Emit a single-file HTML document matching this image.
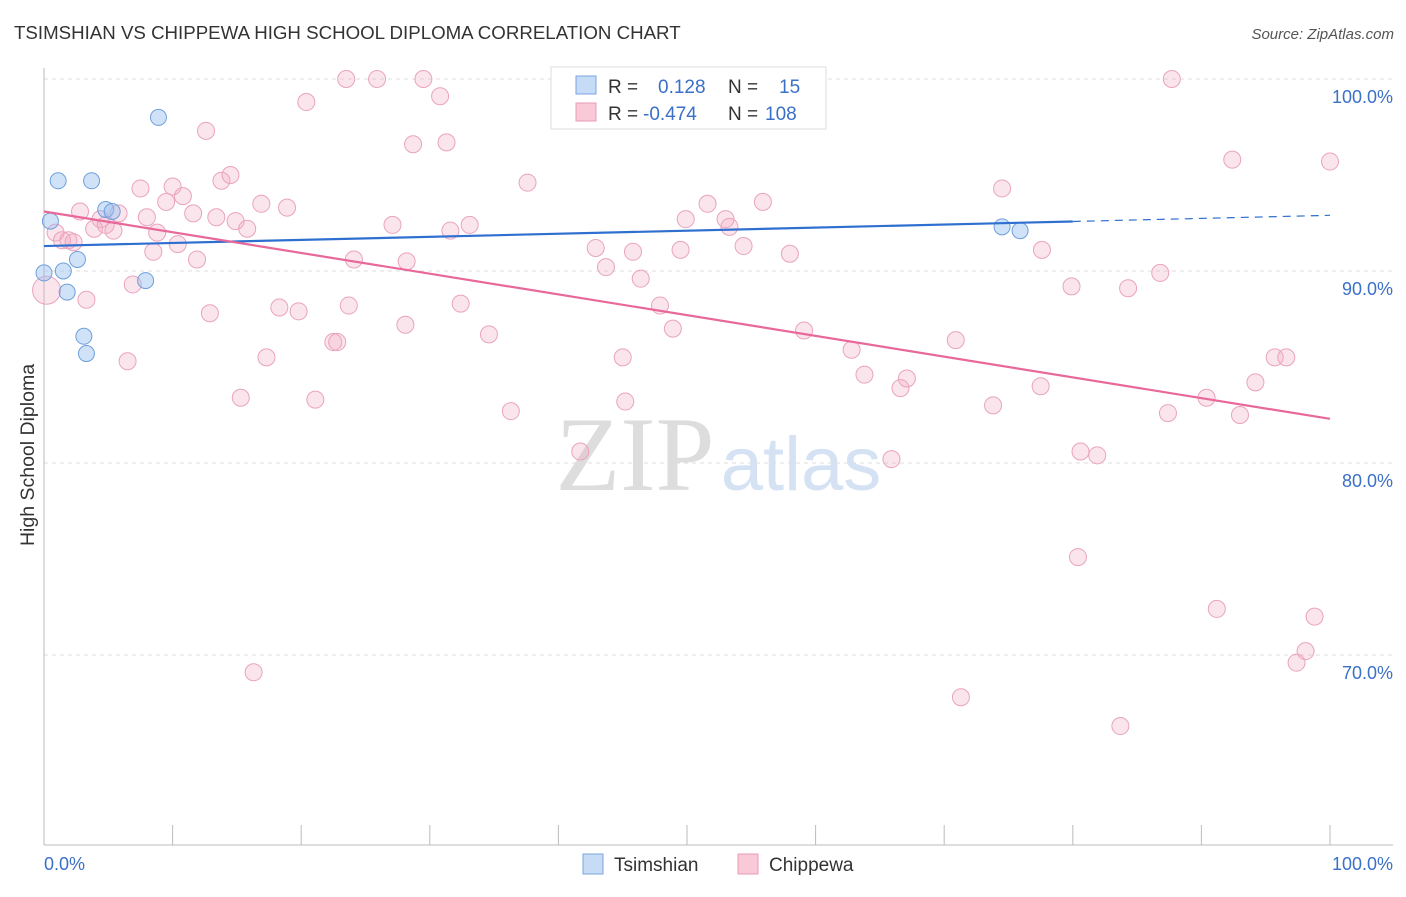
<!DOCTYPE html>
<html><head><meta charset="utf-8"><style>
body{margin:0;background:#fff;font-family:"Liberation Sans",sans-serif}
#c{position:relative;width:1406px;height:892px}
</style></head><body>
<div id="c">
<svg id="s" width="1406" height="892" xmlns="http://www.w3.org/2000/svg">
<text x="14" y="39" font-size="18.7" fill="#333">TSIMSHIAN VS CHIPPEWA HIGH SCHOOL DIPLOMA CORRELATION CHART</text>
<text x="1394" y="39" font-size="15" fill="#555" font-style="italic" text-anchor="end">Source: ZipAtlas.com</text>
<text x="34" y="455" font-size="19.5" fill="#333" text-anchor="middle" transform="rotate(-90 34 455)">High School Diploma</text>
<g><text x="635" y="490" font-size="106" fill="#ddd" font-family="Liberation Serif" text-anchor="middle">ZIP</text><text x="801" y="490" font-size="76" fill="#d4e2f4" text-anchor="middle">atlas</text></g>
<g id="grid"></g><g id="marks"></g>
<g>
<rect x="551" y="67" width="275" height="62" fill="#fff" stroke="#ddd"/>
<rect x="576" y="76" width="20" height="18" fill="#c5dbf6" stroke="#7aa6e0"/>
<rect x="576" y="103" width="20" height="18" fill="#f9c9d8" stroke="#e89ab5"/>
<text x="608" y="93" font-size="19" fill="#333">R =</text><text x="658" y="93" font-size="19" fill="#3a70c8">0.128</text>
<text x="728" y="93" font-size="19" fill="#333">N =</text><text x="779" y="93" font-size="19" fill="#3a70c8">15</text>
<text x="608" y="120" font-size="19" fill="#333">R =</text><text x="643" y="120" font-size="19" fill="#3a70c8">-0.474</text>
<text x="728" y="120" font-size="19" fill="#333">N =</text><text x="765" y="120" font-size="19" fill="#3a70c8">108</text>
</g>
<g>
<rect x="583" y="854" width="20" height="20" fill="#c5dbf6" stroke="#7aa6e0"/>
<text x="614" y="871" font-size="19" fill="#333">Tsimshian</text>
<rect x="738" y="854" width="20" height="20" fill="#f9c9d8" stroke="#e89ab5"/>
<text x="769" y="871" font-size="19" fill="#333">Chippewa</text>
</g>
</svg></div>
<script>
const blueX=[0,0.5,1.1,1.5,1.8,2.6,3.1,3.3,3.7,4.8,5.3,7.9,8.9,74.5,75.9];
const blueY=[89.9,92.6,94.7,90.0,88.9,90.6,86.6,85.7,94.7,93.2,93.1,89.5,98.0,92.3,92.1];
const pinkX=[0.2,0.9,1.4,1.9,2.3,2.8,3.3,3.9,4.4,4.8,5.4,5.8,6.5,6.9,7.5,8.0,8.5,8.8,9.5,10.0,10.4,10.8,11.6,11.9,12.6,12.9,13.4,13.8,14.5,14.9,15.3,15.8,16.3,16.9,17.3,18.3,18.9,19.8,20.4,21.1,22.5,22.8,23.5,23.7,24.1,25.9,27.1,28.1,28.2,28.7,29.5,30.8,31.3,31.6,32.4,33.1,34.6,36.3,37.6,41.7,42.9,43.7,45.0,45.2,45.8,46.4,47.9,48.9,49.5,49.9,51.6,53.0,53.3,54.4,55.9,58.0,59.1,62.8,63.8,65.9,66.6,67.1,70.9,71.3,73.8,74.5,77.5,77.6,79.9,80.4,80.6,81.9,83.7,84.3,86.8,87.4,87.7,90.4,91.2,92.4,93.0,94.2,95.7,96.6,97.4,98.1,98.8,100];
const pinkY=[89.0,92.0,91.6,91.6,91.5,93.1,88.5,92.2,92.7,92.4,92.1,93.0,85.3,89.3,94.3,92.8,91.0,92.0,93.6,94.4,91.4,93.9,93.0,90.6,97.3,87.8,92.8,94.7,95.0,92.6,83.4,92.2,69.1,93.5,85.5,88.1,93.3,87.9,98.8,83.3,86.3,86.3,100,88.2,90.6,100,92.4,87.2,90.5,96.6,100,99.1,96.7,92.1,88.3,92.4,86.7,82.7,94.6,80.6,91.2,90.2,85.5,83.2,91.0,89.6,88.2,87.0,91.1,92.7,93.5,92.7,92.3,91.3,93.6,90.9,86.9,85.9,84.6,80.2,83.9,84.4,86.4,67.8,83.0,94.3,84.0,91.1,89.2,75.1,80.6,80.4,66.3,89.1,89.9,82.6,100,83.4,72.4,95.8,82.5,84.2,85.5,85.5,69.6,70.2,72.0,95.7];
const yTicks=[100,90,80,70];
const yTickLabels=["100.0%","90.0%","80.0%","70.0%"];
const blueTrend=[91.3,0.016]; const pinkTrend=[93.1,-0.108];
const NS="http://www.w3.org/2000/svg";
const X=v=>44+v*12.86, Y=v=>79+(100-v)*19.2;
function mk(t,a,p){const e=document.createElementNS(NS,t);for(const k in a)e.setAttribute(k,a[k]);p.appendChild(e);return e;}
const g=document.getElementById('grid'),m=document.getElementById('marks');
yTicks.forEach((t,i)=>{const l=mk('line',{x1:44,x2:1393,y1:Y(t),y2:Y(t),stroke:'#ddd','stroke-dasharray':'4,4'},g);


const tx=mk('text',{x:1393,y:Y(t)+24,'font-size':18,fill:'#3a70c8','text-anchor':'end'},g);tx.textContent=yTickLabels[i];

});
const ax=mk('line',{x1:44,x2:44,y1:68,y2:845,stroke:'#bbb'},g);


const bx=mk('line',{x1:44,x2:1393,y1:845,y2:845,stroke:'#bbb'},g);


for(let i=0;i<=10;i++){const t=mk('line',{x1:X(i*10),x2:X(i*10),y1:825,y2:845,stroke:'#bbb'},g);

}
[['0.0%',44,'start'],['100.0%',1393,'end']].forEach(a=>{const t=mk('text',{x:a[1],y:870,'font-size':18,fill:'#3a70c8','text-anchor':a[2]},g);t.textContent=a[0];

});
pinkX.forEach((x,i)=>{const c=mk('circle',{cx:X(x),cy:Y(pinkY[i]),r:i==0?14:8.5,fill:'rgba(243,168,196,0.3)',stroke:'#eaa3bd','stroke-width':1},m);

});
blueX.forEach((x,i)=>{const c=mk('circle',{cx:X(x),cy:Y(blueY[i]),r:8,fill:'rgba(150,190,240,0.45)',stroke:'#6f9fdc','stroke-width':1},m);

});
const bt=v=>blueTrend[0]+blueTrend[1]*v, pt=v=>pinkTrend[0]+pinkTrend[1]*v;
const l1=mk('line',{x1:X(0),y1:Y(bt(0)),x2:X(80),y2:Y(bt(80)),stroke:'#2f6fd0','stroke-width':2.2},m);


const l2=mk('line',{x1:X(80),y1:Y(bt(80)),x2:X(100),y2:Y(bt(100)),stroke:'#2f6fd0','stroke-width':1.2,'stroke-dasharray':'8,6'},m);


const l3=mk('line',{x1:X(0),y1:Y(pt(0)),x2:X(100),y2:Y(pt(100)),stroke:'#e8689a','stroke-width':2.2},m);


</script></body></html>
